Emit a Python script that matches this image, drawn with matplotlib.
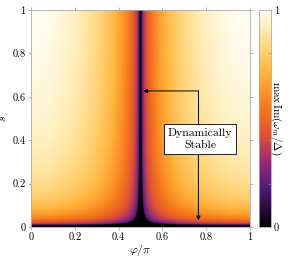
import numpy as np
import matplotlib
matplotlib.use("Agg")
import matplotlib.pyplot as plt
from matplotlib.colors import LinearSegmentedColormap

plt.rcParams['font.family'] = ['cmr10', 'DejaVu Serif']
plt.rcParams['mathtext.fontset'] = 'cm'
plt.rcParams['axes.formatter.use_mathtext'] = True

# 坐标轴刻度
x_ticks = [0, 0.2, 0.4, 0.6, 0.8, 1]
x_labels = ['0', '0.2', '0.4', '0.6', '0.8', '1']
y_ticks = [0, 0.2, 0.4, 0.6, 0.8, 1]
y_labels = ['0', '0.2', '0.4', '0.6', '0.8', '1']

# 色标 (值, 颜色)
cmap_pos = [0.0, 0.05, 0.18, 0.30, 0.42, 0.55, 0.70, 0.84, 0.94, 1.0]
cmap_col = ['#000000', '#1a0628', '#4f1a78', '#962a78', '#dc4f35',
            '#f7781a', '#ffb23a', '#ffd982', '#fff1c6', '#fffdf0']

# 模型参数 (从图上估计)
s_crit = 0.007      # 底部黑带
s_scale = 0.18      # s 方向饱和
u_thr = 0.014       # phi=0.5 附近稳定区
expo = 0.32

phi = np.linspace(0, 1, 800)
s = np.linspace(0, 1, 800)
P, S = np.meshgrid(phi, s)
g = np.clip(S - s_crit, 0, None)
g = g / (g + s_scale) * (1 - s_crit + s_scale) / (1 - s_crit)
u = np.abs(np.cos(np.pi * P)) * g
val = np.clip((u - u_thr) / (1 - u_thr), 0, 1) ** expo

cmap = LinearSegmentedColormap.from_list('sunset', list(zip(cmap_pos, cmap_col)))

fig = plt.figure(figsize=(2.91, 2.57), dpi=100)
ax = fig.add_axes([0.1065, 0.117, 0.752, 0.844])
cax = fig.add_axes([0.890, 0.117, 0.041, 0.844])

im = ax.imshow(val, extent=[0, 1, 0, 1], origin='lower', aspect='auto',
               cmap=cmap, vmin=0, vmax=1, interpolation='antialiased')
ax.set_xlim(0, 1)
ax.set_ylim(0, 1)
ax.set_xticks(x_ticks)
ax.set_xticklabels(x_labels)
ax.set_yticks(y_ticks)
ax.set_yticklabels(y_labels)
ax.tick_params(direction='out', length=2.5, width=0.5, color='#999999',
               labelsize=7.5, pad=1.5, top=True, right=True)
for sp in ax.spines.values():
    sp.set_color('#aaaaaa')
    sp.set_linewidth(0.6)
ax.set_xlabel(r'$\varphi/\pi$', fontsize=8.5, labelpad=0)
ax.set_ylabel(r'$s$', fontsize=8.5, labelpad=3)

# 注释
ax.plot([0.765, 0.765], [0.627, 0.45], color='black', lw=0.7)
ax.annotate('', xy=(0.512, 0.627), xytext=(0.7665, 0.627),
            arrowprops=dict(arrowstyle='-|>', color='black', lw=0.7,
                            mutation_scale=6, shrinkA=0, shrinkB=0))
ax.annotate('', xy=(0.765, 0.03), xytext=(0.765, 0.4),
            arrowprops=dict(arrowstyle='-|>', color='black', lw=0.7,
                            mutation_scale=6, shrinkA=0, shrinkB=0))
ax.text(0.772, 0.405, 'Dynamically\nStable', fontsize=8.5, ha='center',
        va='center', linespacing=1.35, zorder=5,
        bbox=dict(boxstyle='square,pad=0.3', fc='white', ec='black', lw=0.6))

cb = fig.colorbar(im, cax=cax)
cb.set_ticks([0, 1])
cb.set_ticklabels(['0', '1'])
cb.ax.set_yticks([0.2, 0.4, 0.6, 0.8], minor=True)
cb.ax.tick_params(which='both', direction='in', length=2.5, width=0.5,
                  color='#999999', labelsize=7.5, pad=2)
cb.outline.set_edgecolor('#aaaaaa')
cb.outline.set_linewidth(0.6)
cb.set_label(r'$\max\,\mathrm{Im}(\omega_m/\Delta)$', rotation=-90,
             fontsize=8, labelpad=3)

fig.savefig('out.png', dpi=100)
